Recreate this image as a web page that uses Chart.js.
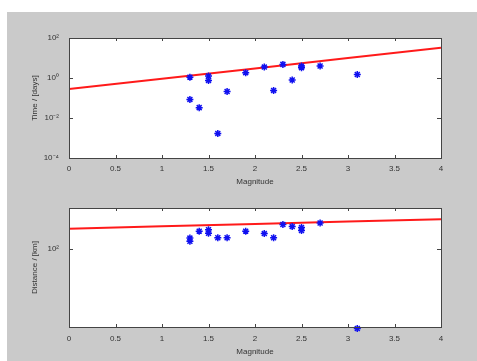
<!DOCTYPE html>
<html>
<head>
<meta charset="utf-8">
<script src="https://cdn.jsdelivr.net/npm/chart.js@4.4.1/dist/chart.umd.min.js"></script>
<style>
  html, body { margin: 0; padding: 0; background: #fff; }
  #fig { position: absolute; left: 7px; top: 12px; width: 470px; height: 349px; background: #cacaca; }
  canvas { position: absolute; left: 0; }
  #cTime { top: 0; }
  #cDist { top: 190px; }
</style>
</head>
<body>
<div id="fig"></div>
<canvas id="cTime" width="477" height="190"></canvas>
<canvas id="cDist" width="477" height="171"></canvas>
<script>
// event magnitudes (shared by both panels)
const magnitudes = [1.3, 1.3, 1.4, 1.5, 1.5, 1.6, 1.7, 1.9, 2.1, 2.2, 2.3, 2.4, 2.5, 2.5, 2.7, 3.1];
const timeDays = [1.1, 0.085, 0.033, 1.26, 0.76, 0.0017, 0.21, 1.85, 3.5, 0.24, 4.8, 0.8, 4.0, 3.3, 4.0, 1.5];
const distKm = [124, 116, 143, 147, 137, 125, 125, 143, 136, 125, 164, 157, 154, 145, 169, 19.4];

// red fit lines, read at whole magnitudes
const fitMag = [0, 1, 2, 3, 4];
const fitTime = [0.28, 0.92, 3.0, 9.9, 32.7];
const fitDist = [150, 158, 166, 174, 183];

const xTicks = [0, 0.5, 1, 1.5, 2, 2.5, 3, 3.5, 4];
const timeTicks = [1e-4, 1e-2, 1, 1e2];
const distTicks = [100];

const sup = {'-': '\u207B', '0': '\u2070', '1': '\u00B9', '2': '\u00B2', '3': '\u00B3', '4': '\u2074'};
function powLabel(v) {
  const e = String(Math.round(Math.log10(v)));
  return '10' + e.split('').map(c => sup[c]).join('');
}

const font = { family: 'Liberation Sans, Arial, sans-serif', size: 8 };
Chart.defaults.color = '#333';

const frame = {
  id: 'frame',
  beforeDraw(chart) {
    const a = chart.chartArea, ctx = chart.ctx;
    ctx.save();
    ctx.fillStyle = '#fff';
    ctx.fillRect(a.left, a.top, a.right - a.left, a.bottom - a.top);
    ctx.restore();
  },
  afterDraw(chart) {
    const a = chart.chartArea, ctx = chart.ctx;
    const xs = chart.scales.x, ys = chart.scales.y;
    ctx.save();
    ctx.strokeStyle = '#444';
    ctx.lineWidth = 1;
    ctx.beginPath();
    xs.ticks.forEach((t, i) => {
      const px = Math.round(xs.getPixelForTick(i)) + 0.5;
      ctx.moveTo(px, a.bottom); ctx.lineTo(px, a.bottom - 3);
      ctx.moveTo(px, a.top); ctx.lineTo(px, a.top + 3);
    });
    ys.ticks.forEach((t, i) => {
      const py = Math.round(ys.getPixelForTick(i)) + 0.5;
      ctx.moveTo(a.left, py); ctx.lineTo(a.left + 4, py);
      ctx.moveTo(a.right, py); ctx.lineTo(a.right - 4, py);
    });
    ctx.stroke();
    ctx.strokeRect(Math.round(a.left) + 0.5, Math.round(a.top) + 0.5,
      Math.round(a.right - a.left), Math.round(a.bottom - a.top));
    ctx.restore();
  }
};

function makeConfig(yValues, fitValues, yMin, yMax, yTicks, yTitle, pad, xHeight, xTickPad, xTitlePad) {
  return {
    type: 'scatter',
    data: {
      datasets: [{
        data: magnitudes.map((m, i) => ({ x: m, y: yValues[i] })),
        pointStyle: 'star',
        pointRadius: 3.5,
        borderColor: '#1010f0',
        backgroundColor: '#1010f0',
        borderWidth: 1.5,
        clip: false,
      }, {
        data: fitMag.map((m, i) => ({ x: m, y: fitValues[i] })),
        showLine: true,
        borderColor: '#ff1a1a',
        borderWidth: 2,
        pointRadius: 0,
      }]
    },
    options: {
      responsive: false,
      animation: false,
      layout: { padding: pad },
      plugins: { legend: { display: false }, tooltip: { enabled: false } },
      scales: {
        x: {
          type: 'linear', min: 0, max: 4,
          afterBuildTicks: s => { s.ticks = xTicks.map(v => ({ value: v })); },
          afterFit: s => { s.height = xHeight; },
          grid: { display: false, drawTicks: false },
          border: { display: false },
          ticks: { font, padding: xTickPad, maxRotation: 0, callback: v => String(v) },
          title: { display: true, text: 'Magnitude', font, padding: { top: 0, bottom: xTitlePad } }
        },
        y: {
          type: 'logarithmic', min: yMin, max: yMax,
          afterBuildTicks: s => { s.ticks = yTicks.map(v => ({ value: v })); },
          afterFit: s => { s.width = 39; },
          grid: { display: false, drawTicks: false },
          border: { display: false },
          ticks: { font, padding: 10, callback: v => powLabel(v) },
          title: { display: true, text: yTitle, font, padding: 0 }
        }
      }
    },
    plugins: [frame]
  };
}

new Chart(document.getElementById('cTime'),
  makeConfig(timeDays, fitTime, 1e-4, 1e2, timeTicks, 'Time / [days]',
    { left: 30, top: 38, right: 36, bottom: 0 }, 32, 6, 3));

new Chart(document.getElementById('cDist'),
  makeConfig(distKm, fitDist, 20, 230, distTicks, 'Distance / [km]',
    { left: 30, top: 18, right: 36, bottom: 0 }, 34, 7, 4));
</script>
</body>
</html>
